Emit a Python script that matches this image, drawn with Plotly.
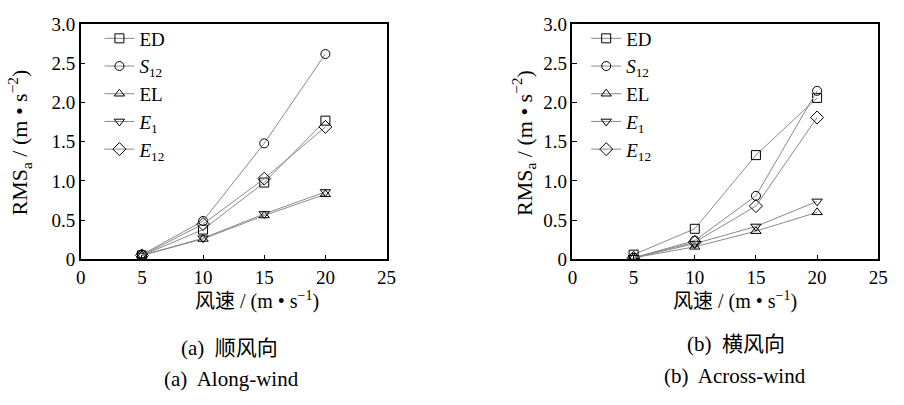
import plotly.graph_objects as go

wind_speed = [5, 10, 15, 20]

series_names = ["ED", "<i>S</i><sub>12</sub>", "EL", "<i>E</i><sub>1</sub>", "<i>E</i><sub>12</sub>"]
symbols = ["square-open", "circle-open", "triangle-up-open", "triangle-down-open", "diamond-open"]

# (a) along-wind
along_ED = [0.05, 0.38, 0.98, 1.77]
along_S12 = [0.06, 0.49, 1.48, 2.62]
along_EL = [0.05, 0.26, 0.56, 0.83]
along_E1 = [0.05, 0.27, 0.58, 0.86]
along_E12 = [0.05, 0.45, 1.03, 1.69]

# (b) across-wind
across_ED = [0.06, 0.39, 1.33, 2.06]
across_S12 = [0.02, 0.24, 0.81, 2.15]
across_EL = [0.02, 0.16, 0.36, 0.60]
across_E1 = [0.02, 0.20, 0.42, 0.74]
across_E12 = [0.02, 0.22, 0.68, 1.81]

y_tickvals = [0, 0.5, 1.0, 1.5, 2.0, 2.5, 3.0]
y_ticktext = ["0", "0.5", "1.0", "1.5", "2.0", "2.5", "3.0"]
x_tickvals = [0, 5, 10, 15, 20, 25]

FONT = "Liberation Serif, Noto Sans CJK SC"
W, H = 904, 405

fig = go.Figure()

along = [along_ED, along_S12, along_EL, along_E1, along_E12]
across = [across_ED, across_S12, across_EL, across_E1, across_E12]

for i in range(5):
    fig.add_trace(go.Scatter(
        x=wind_speed, y=along[i], name=series_names[i], mode="lines+markers",
        line=dict(color="#8a8a8a", width=1),
        marker=dict(symbol=symbols[i], size=9 if i != 4 else 10, color="black", line=dict(width=1, color="black")),
        xaxis="x", yaxis="y", legend="legend"))
for i in range(5):
    fig.add_trace(go.Scatter(
        x=wind_speed, y=across[i], name=series_names[i], mode="lines+markers",
        line=dict(color="#8a8a8a", width=1),
        marker=dict(symbol=symbols[i], size=9 if i != 4 else 10, color="black", line=dict(width=1, color="black")),
        xaxis="x2", yaxis="y2", legend="legend2"))

def px_x(p):
    return p / W

def px_y(p):
    return 1 - p / H

axis_common = dict(
    showgrid=False, zeroline=False, showline=True, linecolor="black", linewidth=1.5,
    mirror=True, ticks="inside", ticklen=5, tickwidth=1, tickcolor="black",
    tickfont=dict(family=FONT, size=19, color="black"),
)

ydom = [px_y(263), px_y(15)]
fig.update_layout(
    width=W, height=H, margin=dict(l=0, r=0, t=0, b=0),
    paper_bgcolor="white", plot_bgcolor="white",
    font=dict(family=FONT, color="black"),
    xaxis=dict(domain=[px_x(77), px_x(388)], range=[0, 25], tickvals=x_tickvals, anchor="y", **axis_common),
    yaxis=dict(domain=ydom, range=[0, 3.0], tickvals=y_tickvals, ticktext=y_ticktext, anchor="x", **axis_common),
    xaxis2=dict(domain=[px_x(577), px_x(888)], range=[0, 25], tickvals=x_tickvals, anchor="y2", **axis_common),
    yaxis2=dict(domain=ydom, range=[0, 3.0], tickvals=y_tickvals, ticktext=y_ticktext, anchor="x2", **axis_common),
    legend=dict(x=px_x(96), y=px_y(10), xanchor="left", yanchor="top", bgcolor="rgba(0,0,0,0)",
                font=dict(family=FONT, size=19, color="black"), tracegroupgap=0, itemwidth=30),
    legend2=dict(x=px_x(591), y=px_y(10), xanchor="left", yanchor="top", bgcolor="rgba(0,0,0,0)",
                 font=dict(family=FONT, size=19, color="black"), tracegroupgap=0, itemwidth=30),
    showlegend=True,
)

annotations = [
    dict(text="风速 / (m • s<sup>−1</sup>)", x=px_x(256), y=px_y(306), size=20),
    dict(text="风速 / (m • s<sup>−1</sup>)", x=px_x(742), y=px_y(306), size=20),
    dict(text="(a)  顺风向", x=px_x(228), y=px_y(356), size=21),
    dict(text="(b)  横风向", x=px_x(743), y=px_y(352), size=21),
    dict(text="(a)  Along-wind", x=px_x(230), y=px_y(389), size=21),
    dict(text="(b)  Across-wind", x=px_x(742), y=px_y(386), size=21),
]
for a in annotations:
    size = a.pop("size")
    fig.add_annotation(xref="paper", yref="paper", showarrow=False, xanchor="center", yanchor="middle",
                       font=dict(family=FONT, size=size, color="black"), **a)
for xp in (15, 528):
    fig.add_annotation(text="RMS<sub>a</sub> / (m • s<sup>−2</sup>)", xref="paper", yref="paper",
                       x=px_x(xp), y=px_y(140), showarrow=False, textangle=-90,
                       xanchor="center", yanchor="middle",
                       font=dict(family=FONT, size=22, color="black"))

fig.write_html("out.html")
